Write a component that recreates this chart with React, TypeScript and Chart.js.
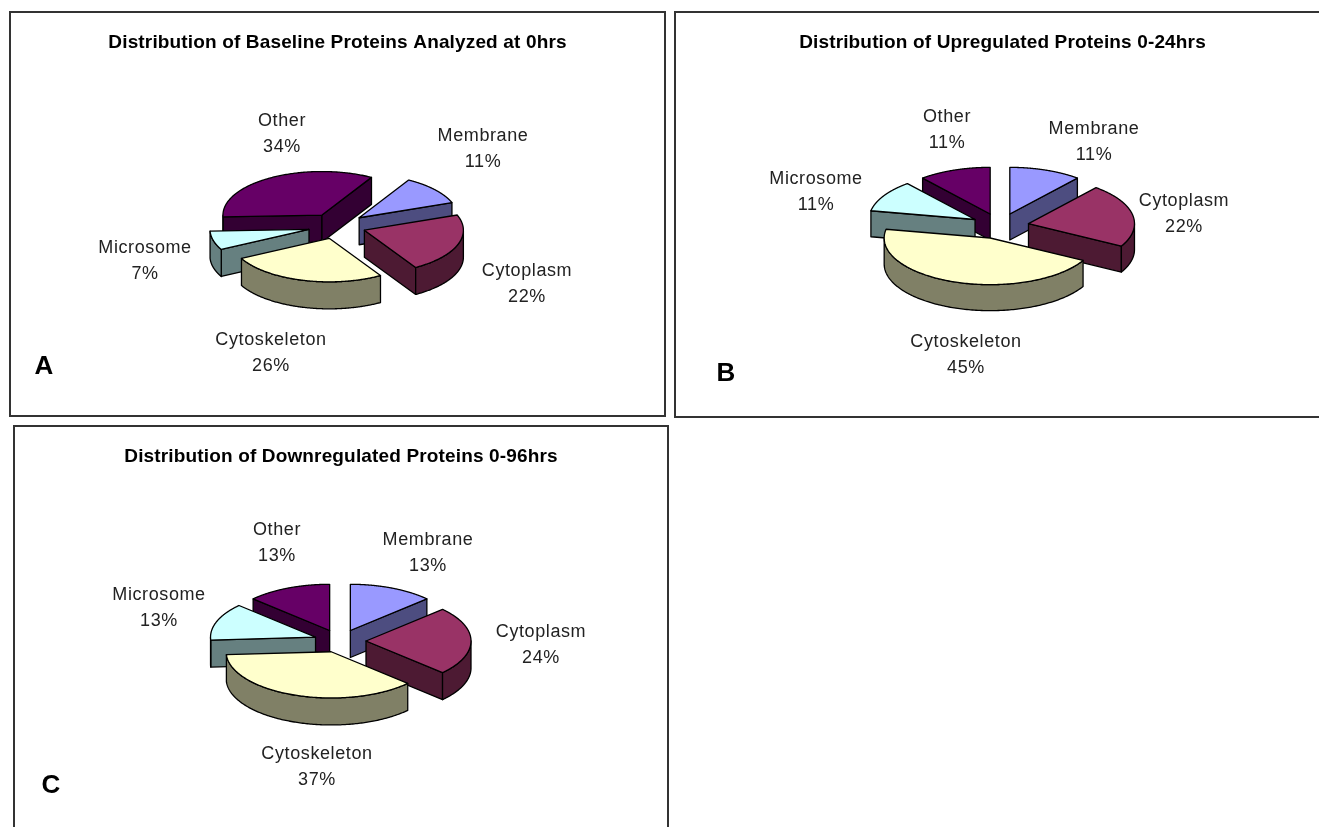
import React, { useEffect, useRef } from "react";
import { Chart, registerables } from "chart.js";

Chart.register(...registerables);

// Slice names and colours shared by the three pies
const categories = ["Membrane", "Cytoplasm", "Cytoskeleton", "Microsome", "Other"];
const topColors = ["#9999FF", "#993366", "#FFFFCC", "#CCFFFF", "#660066"];
const wallColors = ["#4D4D80", "#4D1A33", "#808066", "#668080", "#330033"];

// Percentages of each protein group
const baselineValues = [11, 22, 26, 7, 34];
const upregulatedValues = [11, 22, 45, 11, 11];
const downregulatedValues = [13, 24, 37, 13, 13];

const TILT = 0.44;
const TEXT_FONT = "'Liberation Sans', Arial, sans-serif";

type Panel = {
  title: string;
  tag: string;
  values: number[];
  box: { left: number; top: number; width: number; height: number };
  pie: { cx: number; cy: number; radius: number; offset: number; depth: number; rotation: number };
  tagAt: [number, number];
  labelAt: [number, number][];
};

const panels: Panel[] = [
  {
    title: "Distribution of Baseline Proteins Analyzed at 0hrs",
    tag: "A",
    values: baselineValues,
    box: { left: 9, top: 11, width: 657, height: 406 },
    pie: { cx: 337, cy: 226, radius: 99, offset: 29, depth: 27, rotation: 30 },
    tagAt: [44, 367],
    labelAt: [[483, 136], [527, 271], [271, 340], [145, 248], [282, 121]],
  },
  {
    title: "Distribution of Upregulated Proteins 0-24hrs",
    tag: "B",
    values: upregulatedValues,
    box: { left: 674, top: 11, width: 657, height: 407 },
    pie: { cx: 1000, cy: 226, radius: 106, offset: 29, depth: 26, rotation: 0 },
    tagAt: [726, 374],
    labelAt: [[1094, 129], [1184, 201], [966, 342], [816, 179], [947, 117]],
  },
  {
    title: "Distribution of Downregulated Proteins 0-96hrs",
    tag: "C",
    values: downregulatedValues,
    box: { left: 13, top: 425, width: 656, height: 410 },
    pie: { cx: 340, cy: 641, radius: 105, offset: 26, depth: 27, rotation: 0 },
    tagAt: [51, 786],
    labelAt: [[428, 540], [541, 632], [317, 754], [159, 595], [277, 530]],
  },
];

const TITLE_SIZE = 19;
const TITLE_CENTRE = 32;
const TITLE_LINE = TITLE_SIZE * 1.2;
const TITLE_PAD_TOP = TITLE_CENTRE - TITLE_LINE / 2;

// Tilted pie: library arc geometry is projected with a vertical squash and extruded downward.
function makePiePlugin(panel: Panel) {
  const { box, pie } = panel;
  const shiftX = pie.cx - (box.left + box.width / 2);
  return {
    id: "tiltedPie",
    beforeDraw(chart: any) {
      chart.ctx.letterSpacing = "0.15px";
    },
    beforeDatasetDraw(chart: any, args: any) {
      const ctx: CanvasRenderingContext2D = chart.ctx;
      const arcs = chart.getDatasetMeta(args.index).data;
      const slices = arcs.map((arc: any, i: number) => {
        const p = arc.getProps(["x", "y", "startAngle", "endAngle", "outerRadius"], true);
        const mid = (p.startAngle + p.endAngle) / 2;
        const off = arc.options.offset;
        const ax = p.x + shiftX + Math.cos(mid) * off;
        const ay = p.y + Math.sin(mid) * off * TILT;
        return { ...p, i, ax, ay, top: arc.options.backgroundColor };
      });
      slices.sort((a: any, b: any) => a.ay - b.ay);
      ctx.save();
      ctx.letterSpacing = "0px";
      ctx.lineWidth = 1.3;
      ctx.lineJoin = "round";
      ctx.strokeStyle = "#000";
      for (const s of slices) {
        const pt = (t: number, down = 0): [number, number] => [
          s.ax + Math.cos(t) * s.outerRadius,
          s.ay + Math.sin(t) * s.outerRadius * TILT + down,
        ];
        const fillPath = (points: [number, number][], color: string) => {
          ctx.beginPath();
          points.forEach(([x, y], n) => (n ? ctx.lineTo(x, y) : ctx.moveTo(x, y)));
          ctx.closePath();
          ctx.fillStyle = color;
          ctx.fill();
          ctx.stroke();
        };
        const wall = wallColors[s.i];
        const d = pie.depth;
        // radial faces turned toward the viewer
        if (-Math.cos(s.startAngle) > 0.001) {
          const e = pt(s.startAngle);
          const f = pt(s.startAngle, d);
          fillPath([[s.ax, s.ay], e, f, [s.ax, s.ay + d]], wall);
        }
        if (Math.cos(s.endAngle) > 0.001) {
          const e = pt(s.endAngle);
          const f = pt(s.endAngle, d);
          fillPath([[s.ax, s.ay], e, f, [s.ax, s.ay + d]], wall);
        }
        // rim: only the stretches on the near half of the ellipse
        const steps = 160;
        let run: number[] = [];
        const flush = () => {
          if (run.length > 1) {
            const upper = run.map((t) => pt(t));
            const lower = run.slice().reverse().map((t) => pt(t, d));
            fillPath([...upper, ...lower], wall);
          }
          run = [];
        };
        for (let n = 0; n <= steps; n++) {
          const t = s.startAngle + ((s.endAngle - s.startAngle) * n) / steps;
          if (Math.sin(t) >= 0) run.push(t);
          else flush();
        }
        flush();
        // top face
        const rimPts: [number, number][] = [[s.ax, s.ay]];
        for (let n = 0; n <= steps; n++) {
          rimPts.push(pt(s.startAngle + ((s.endAngle - s.startAngle) * n) / steps));
        }
        fillPath(rimPts, s.top);
      }
      ctx.restore();
      return false;
    },
    afterDraw(chart: any) {
      const ctx: CanvasRenderingContext2D = chart.ctx;
      const values = chart.data.datasets[0].data;
      ctx.save();
      ctx.textAlign = "center";
      ctx.textBaseline = "middle";
      ctx.fillStyle = "#222";
      ctx.font = `18px ${TEXT_FONT}`;
      ctx.letterSpacing = "0.6px";
      chart.data.labels.forEach((name: string, i: number) => {
        const [x, y] = panel.labelAt[i];
        ctx.fillText(name, x - box.left, y - box.top);
        ctx.fillText(`${values[i]}%`, x - box.left, y - box.top + 26);
      });
      ctx.letterSpacing = "0px";
      ctx.fillStyle = "#000";
      ctx.font = `bold 26px ${TEXT_FONT}`;
      ctx.fillText(panel.tag, panel.tagAt[0] - box.left, panel.tagAt[1] - box.top);
      ctx.restore();
    },
  };
}

function PiePanel({ panel }: { panel: Panel }) {
  const ref = useRef<HTMLCanvasElement>(null);
  useEffect(() => {
    const { box, pie } = panel;
    const titleBlock = TITLE_PAD_TOP + TITLE_LINE;
    const cy = pie.cy - box.top;
    const chart = new Chart(ref.current!, {
      type: "pie",
      data: {
        labels: categories,
        datasets: [
          {
            data: panel.values,
            backgroundColor: topColors,
            borderColor: "#000",
            borderWidth: 1,
            offset: pie.offset,
          },
        ],
      },
      options: {
        responsive: false,
        animation: false,
        rotation: pie.rotation,
        radius: pie.radius,
        layout: { padding: { bottom: box.height - (2 * cy - titleBlock) } },
        plugins: {
          legend: { display: false },
          tooltip: { enabled: false },
          title: {
            display: true,
            text: panel.title,
            color: "#000",
            font: { family: TEXT_FONT, size: TITLE_SIZE, weight: "bold", lineHeight: 1.2 },
            padding: { top: TITLE_PAD_TOP, bottom: 0 },
          },
        },
      },
      plugins: [makePiePlugin(panel)],
    } as any);
    return () => chart.destroy();
  }, [panel]);
  const { left, top, width, height } = panel.box;
  return (
    <div style={{ position: "absolute", left, top, width, height }}>
      <canvas ref={ref} width={width} height={height} style={{ display: "block" }} />
      <div
        style={{
          position: "absolute",
          inset: 0,
          border: "2px solid #333",
          boxSizing: "border-box",
          pointerEvents: "none",
        }}
      />
    </div>
  );
}

export default function App() {
  return (
    <div
      style={{
        position: "fixed",
        left: 0,
        top: 0,
        width: 1319,
        height: 827,
        overflow: "hidden",
        background: "#fff",
      }}
    >
      {panels.map((p) => (
        <PiePanel key={p.tag} panel={p} />
      ))}
    </div>
  );
}
